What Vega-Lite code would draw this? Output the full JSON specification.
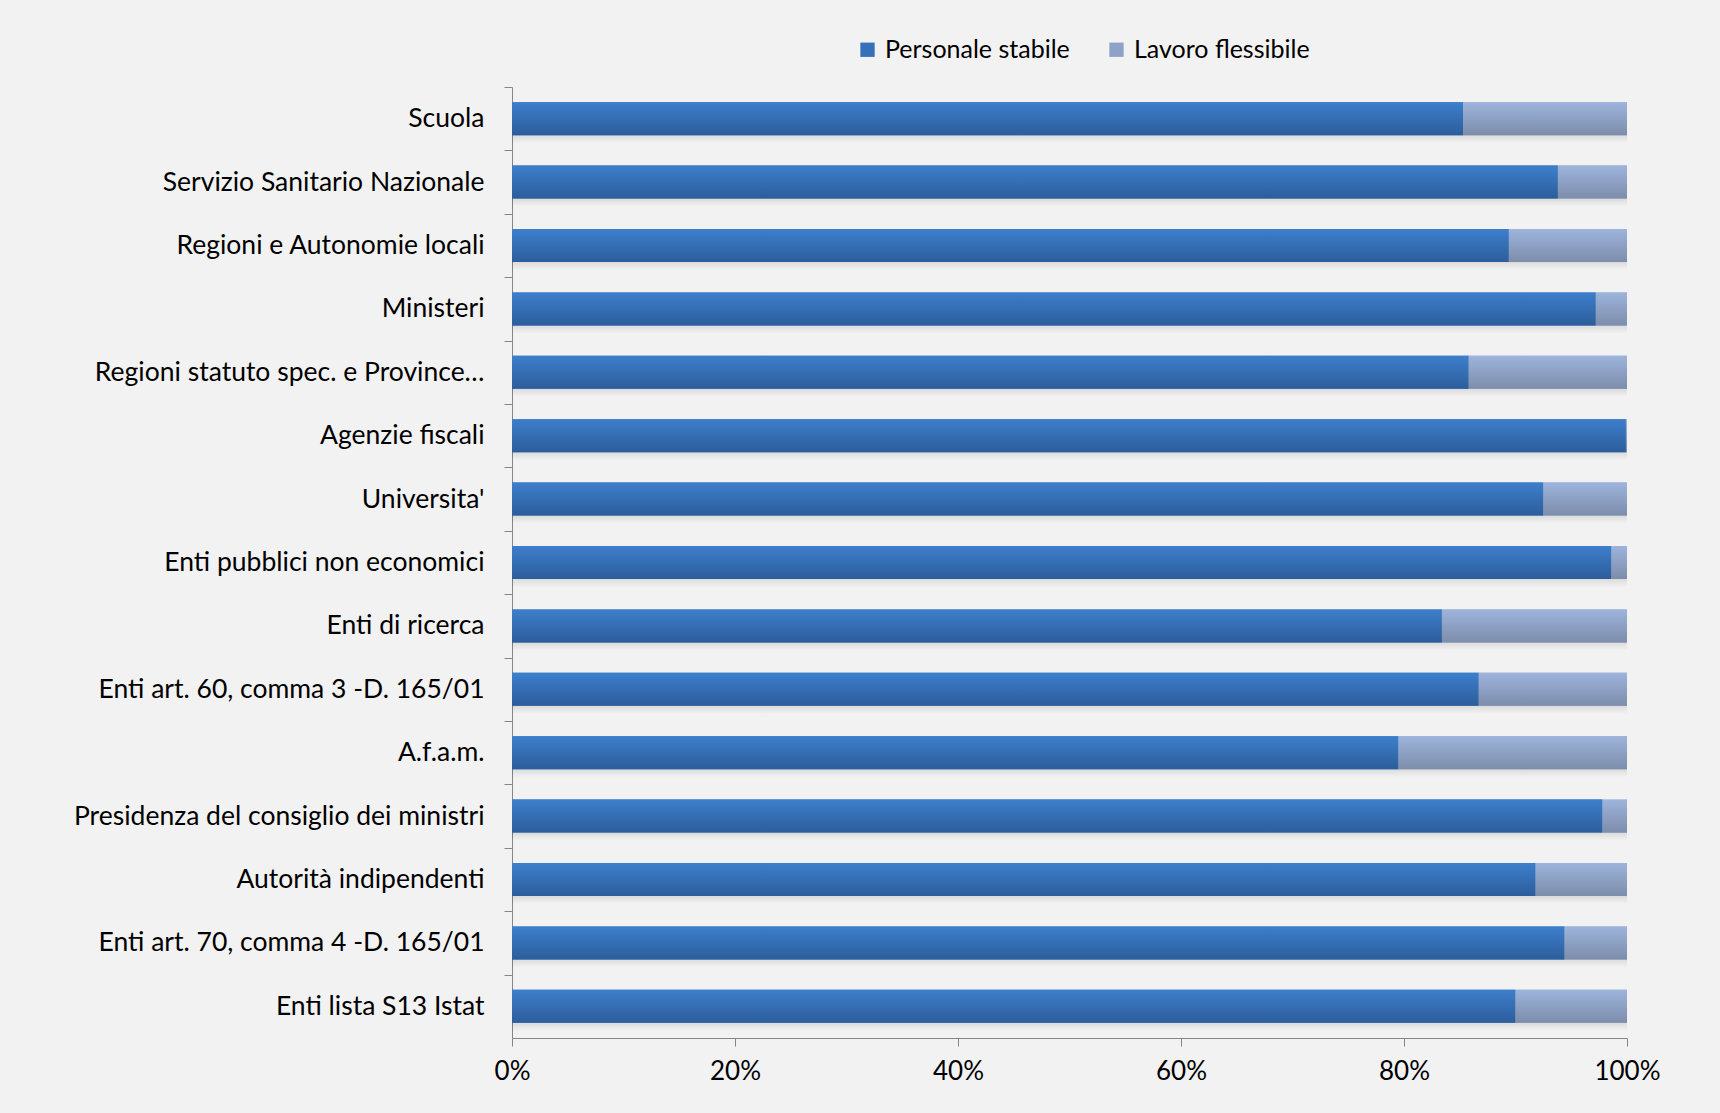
{
  "$schema": "https://vega.github.io/schema/vega-lite/v6.json",
  "width": 1115,
  "height": 951,
  "autosize": "none",
  "padding": {"left": 512, "top": 87, "right": 93, "bottom": 75},
  "background": "#f2f2f2",
  "config": {
    "view": {"stroke": null},
    "font": "Lato",
    "axis": {"labelFont": "Lato", "labelColor": "#000000", "domainColor": "#868686", "tickColor": "#868686", "grid": false, "title": null}
  },
  "data": {
    "values": [
      {"ente": "Scuola", "serie": "Personale stabile", "k": 1, "valore": 0.853},
      {"ente": "Scuola", "serie": "Lavoro flessibile", "k": 2, "valore": 0.147},
      {"ente": "Servizio Sanitario Nazionale", "serie": "Personale stabile", "k": 1, "valore": 0.938},
      {"ente": "Servizio Sanitario Nazionale", "serie": "Lavoro flessibile", "k": 2, "valore": 0.062},
      {"ente": "Regioni e Autonomie locali", "serie": "Personale stabile", "k": 1, "valore": 0.894},
      {"ente": "Regioni e Autonomie locali", "serie": "Lavoro flessibile", "k": 2, "valore": 0.106},
      {"ente": "Ministeri", "serie": "Personale stabile", "k": 1, "valore": 0.972},
      {"ente": "Ministeri", "serie": "Lavoro flessibile", "k": 2, "valore": 0.028},
      {"ente": "Regioni statuto spec. e Province…", "serie": "Personale stabile", "k": 1, "valore": 0.858},
      {"ente": "Regioni statuto spec. e Province…", "serie": "Lavoro flessibile", "k": 2, "valore": 0.142},
      {"ente": "Agenzie fiscali", "serie": "Personale stabile", "k": 1, "valore": 0.999},
      {"ente": "Agenzie fiscali", "serie": "Lavoro flessibile", "k": 2, "valore": 0.001},
      {"ente": "Universita'", "serie": "Personale stabile", "k": 1, "valore": 0.925},
      {"ente": "Universita'", "serie": "Lavoro flessibile", "k": 2, "valore": 0.075},
      {"ente": "Enti pubblici non economici", "serie": "Personale stabile", "k": 1, "valore": 0.986},
      {"ente": "Enti pubblici non economici", "serie": "Lavoro flessibile", "k": 2, "valore": 0.014},
      {"ente": "Enti di ricerca", "serie": "Personale stabile", "k": 1, "valore": 0.834},
      {"ente": "Enti di ricerca", "serie": "Lavoro flessibile", "k": 2, "valore": 0.166},
      {"ente": "Enti art. 60, comma 3 -D. 165/01 ", "serie": "Personale stabile", "k": 1, "valore": 0.867},
      {"ente": "Enti art. 60, comma 3 -D. 165/01 ", "serie": "Lavoro flessibile", "k": 2, "valore": 0.133},
      {"ente": "A.f.a.m.", "serie": "Personale stabile", "k": 1, "valore": 0.795},
      {"ente": "A.f.a.m.", "serie": "Lavoro flessibile", "k": 2, "valore": 0.205},
      {"ente": "Presidenza del consiglio dei ministri", "serie": "Personale stabile", "k": 1, "valore": 0.978},
      {"ente": "Presidenza del consiglio dei ministri", "serie": "Lavoro flessibile", "k": 2, "valore": 0.022},
      {"ente": "Autorità indipendenti", "serie": "Personale stabile", "k": 1, "valore": 0.918},
      {"ente": "Autorità indipendenti", "serie": "Lavoro flessibile", "k": 2, "valore": 0.082},
      {"ente": "Enti art. 70, comma 4 -D. 165/01", "serie": "Personale stabile", "k": 1, "valore": 0.944},
      {"ente": "Enti art. 70, comma 4 -D. 165/01", "serie": "Lavoro flessibile", "k": 2, "valore": 0.056},
      {"ente": "Enti lista S13 Istat", "serie": "Personale stabile", "k": 1, "valore": 0.9},
      {"ente": "Enti lista S13 Istat", "serie": "Lavoro flessibile", "k": 2, "valore": 0.1}
    ]
  },
  "layer": [
    {
      "transform": [{"filter": "datum.k === 1"}],
      "mark": {"type": "bar", "color": {"gradient": "linear", "x1": 0, "y1": 0, "x2": 0, "y2": 1, "stops": [{"offset": 0, "color": "rgba(0,0,0,0)"}, {"offset": 0.6, "color": "rgba(0,0,0,0.16)"}, {"offset": 1, "color": "rgba(0,0,0,0)"}]}, "yOffset": 8},
      "encoding": {
        "y": {"field": "ente", "type": "nominal", "sort": null, "scale": {"paddingInner": 0.48, "paddingOuter": 0.24}},
        "x": {"datum": 0, "type": "quantitative"},
        "x2": {"datum": 1}
      }
    },
    {
      "mark": {"type": "bar"},
      "encoding": {
        "y": {
          "field": "ente", "type": "nominal", "sort": null,
          "scale": {"paddingInner": 0.48, "paddingOuter": 0.24},
          "axis": {"labelFontSize": 26.5, "labelPadding": 20, "tickSize": 8, "ticks": true, "tickOffset": -31.7, "labelOffset": 31.7, "labelLimit": 600}
        },
        "x": {
          "field": "valore", "type": "quantitative", "stack": "zero",
          "scale": {"domain": [0, 1], "nice": false},
          "axis": {"format": "%", "values": [0, 0.2, 0.4, 0.6, 0.8, 1], "labelFontSize": 26, "tickSize": 8, "labelPadding": 12, "labelFlush": false}
        },
        "order": {"field": "k", "type": "quantitative"},
        "color": {
          "field": "serie", "type": "nominal",
          "scale": {"domain": ["Personale stabile", "Lavoro flessibile"], "range": ["#3670b8", "#8ea2c8"]},
          "legend": {"title": null, "orient": "none", "legendX": 343, "legendY": -50, "direction": "horizontal", "symbolType": "square", "symbolSize": 205, "symbolStrokeWidth": 0, "labelFontSize": 25, "labelFont": "Lato", "labelLimit": 400, "columnPadding": 34, "labelOffset": 5}
        }
      }
    },
    {
      "mark": {"type": "bar"},
      "encoding": {
        "y": {"field": "ente", "type": "nominal", "sort": null, "scale": {"paddingInner": 0.48, "paddingOuter": 0.24}},
        "x": {"field": "valore", "type": "quantitative", "stack": "zero"},
        "detail": {"field": "serie"},
        "order": {"field": "k", "type": "quantitative"},
        "fill": {
          "condition": {"test": "datum.serie === 'Personale stabile'", "value": {"gradient": "linear", "x1": 0, "y1": 0, "x2": 0, "y2": 1, "stops": [{"offset": 0, "color": "#3d7fcc"}, {"offset": 1, "color": "#2c5d9b"}]}},
          "value": {"gradient": "linear", "x1": 0, "y1": 0, "x2": 0, "y2": 1, "stops": [{"offset": 0, "color": "#9db4dc"}, {"offset": 1, "color": "#7d8dab"}]}
        }
      }
    }
  ]
}
